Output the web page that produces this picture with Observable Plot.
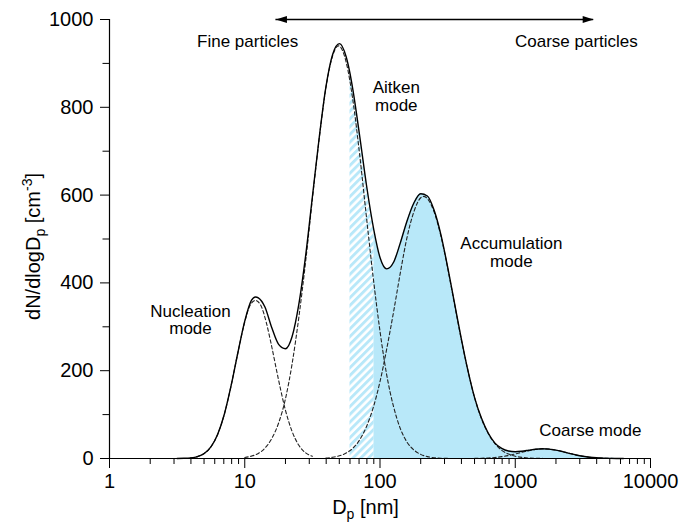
<!DOCTYPE html>
<html><head><meta charset="utf-8">
<script src="https://cdn.jsdelivr.net/npm/d3@7"></script>
<script src="https://cdn.jsdelivr.net/npm/@observablehq/plot@0.6"></script>
<style>
body{margin:0;background:#fff;}
#chart{width:682px;height:526px;}
</style></head><body><div id="chart"></div>
<script>
// ---- data (D in nm, values in cm^-3) ----
const diameters = [3.16,3.55,3.98,4.47,5.01,5.62,6.31,7.08,7.94,8.91,10,11.2,12.0,12.6,14.1,15.8,17.8,20.0,22.4,25.1,28.2,31.6,35.5,39.8,44.7,50.1,56.2,60,63.1,70.8,79.4,90,100,112,126,141,158,178,200,224,251,282,316,355,398,447,501,562,631,708,794,891,1000,1122,1259,1413,1585,1778,1995,2239,2512,2818,3162,3548,3981,4467,5012,5623,6310];
const totalValues = [0.1,0.4,1.4,4.3,11.3,26.6,55.4,102,167,242,313,360,368,366,345,299,260,250,278,351,462,595,730,846,921,945,915,877,839,734,623,521,458,432,447,490,540,582,603,598,566,510,437,355,275,200,138,92,58,35,23,17,15.4,16.6,18.9,21.2,22.2,21.4,19.1,15.7,11.8,8.1,5.1,3,1.6,0.8,0.35,0.1,0];

const nucleationD = [3.98,4.47,5.01,5.62,6.31,7.08,7.94,8.91,10,10.96,12.0,13.18,14.45,15.85,17.78,19.95,22.39,25.12,28.18,31.62];
const nucleationV = [1.4,4.3,11.3,26.6,55.4,102,167,242,311,349,360,348,309,254,179,111,61.6,30,13,5];

const aitkenD = [10,11.2,12.6,14.1,15.8,17.8,20.0,22.4,25.1,28.2,31.6,35.5,39.8,44.7,49.3,56.2,63.1,70.8,79.4,89.1,100,112,126,141,158,178,200,224,251,282,316];
const aitkenV = [2.3,5.4,11.6,23.6,45,80.8,136,216,321,449,590,728,844,918,940,903,815,691,550,412,290,191,118,69,37.8,19.5,9.4,4.3,1.8,0.7,0.3];

const accumulationD = [39.8,44.7,50.1,56.2,63.1,70.8,79.4,89.1,100,112,126,141,158,178,200,209,224,251,282,316,355,398,447,501,562,631,708,794,891,1000,1122,1259,1413,1585];
const accumulationV = [1.2,2.8,6.1,12.3,23.6,42.6,72.5,116,175,249,334,421,502,562,594,597,592,562,507,435,353,273,200,138,91,57,34,18.7,10,5.1,2.5,1.1,0.5,0.2];

const coarseD = [501,562,631,708,794,891,1000,1122,1259,1413,1585,1778,1995,2239,2512,2818,3162,3548,3981,4467,5012,5623,6310];
const coarseV = [0.24,0.6,1.2,2.3,4.2,6.8,10.3,14.1,17.8,20.7,22,21.4,19.1,15.7,11.8,8.1,5.1,3,1.6,0.8,0.35,0.1,0];

const hatchRange = [60, 90];      // nm, hatched Aitken part
const fillStart = 90;             // nm, solid shading starts
const arrowEnds = [17, 3800];     // nm, fine/coarse arrow
const arrowLevel = 1000;

const xMajorTicks = [1,10,100,1000,10000];
const xMinorTicks = [2,3,4,5,6,7,8,9,20,30,40,50,60,70,80,90,200,300,400,500,600,700,800,900,2000,3000,4000,5000,6000,7000,8000,9000];
const yMajorTicks = [0,200,400,600,800,1000];
const yMinorTicks = [100,300,500,700,900];

const annotationLabels = ["Fine particles","Coarse particles","Aitken\nmode","Accumulation\nmode","Nucleation\nmode","Coarse mode"];
const annotationX = [10.5, 2830, 132, 936, 3.97, 3590];
const annotationY = [950, 950, 825, 469, 315, 64];

// ---- tables ----
const zip = (D, V) => D.map((d, i) => ({d, v: V[i]}));
const total = zip(diameters, totalValues);
const modes = [zip(nucleationD, nucleationV), zip(aitkenD, aitkenV), zip(accumulationD, accumulationV), zip(coarseD, coarseV)];
const hatched = total.filter(p => p.d >= hatchRange[0] && p.d <= hatchRange[1]);
const shaded = total.filter(p => p.d >= fillStart);
const annotations = annotationLabels.map((t, i) => ({t, x: annotationX[i], y: annotationY[i]}));
const arrowHeads = [{x: arrowEnds[0], rot: 180}, {x: arrowEnds[1], rot: 0}];

const FONT = "'Liberation Sans', Arial, sans-serif";
const FILL = "#b8e8f9";

const arrowHead = {draw(ctx) { ctx.moveTo(0, 0); ctx.lineTo(-11, -3.6); ctx.lineTo(-11, 3.6); ctx.closePath(); }};

const W = 682, H = 526, ML = 109, MR = 32, MT = 19, MB = 68;

const plot = Plot.plot({
  width: W, height: H,
  marginLeft: ML, marginRight: MR, marginTop: MT, marginBottom: MB,
  style: {fontFamily: FONT, background: "#fff", color: "#000"},
  x: {type: "log", domain: [1, 10000]},
  y: {domain: [0, 1000]},
  marks: [
    Plot.areaY(shaded, {x: "d", y: "v", fill: FILL, curve: "monotone-x"}),
    Plot.areaY(hatched, {x: "d", y: "v", fill: "url(#hatch)", curve: "monotone-x"}),
    ...modes.map(m => Plot.line(m, {x: "d", y: "v", stroke: "#222", strokeWidth: 1.1, strokeDasharray: "3.5,2.5", curve: "monotone-x"})),
    Plot.line(total, {x: "d", y: "v", stroke: "#000", strokeWidth: 1.4, curve: "monotone-x"}),
    Plot.ruleY([0], {stroke: "#000", strokeWidth: 1.2}),
    Plot.ruleX([1], {y1: 0, y2: 1000, stroke: "#000", strokeWidth: 1.2}),
    Plot.axisX({ticks: xMajorTicks, tickSize: 10, tickPadding: 5, tickFormat: d => String(d), fontSize: 20, label: null}),
    Plot.axisX({ticks: xMinorTicks, tickSize: 6, tickFormat: () => "", label: null}),
    Plot.axisY({ticks: yMajorTicks, tickSize: 9, tickPadding: 7, tickFormat: d => String(d), fontSize: 20, label: null}),
    Plot.axisY({ticks: yMinorTicks, tickSize: 6.5, tickFormat: () => "", label: null}),
    Plot.ruleY([arrowLevel], {x1: arrowEnds[0], x2: arrowEnds[1], stroke: "#000", strokeWidth: 1.3}),
    Plot.dot(arrowHeads, {x: "x", y: () => arrowLevel, rotate: "rot", symbol: arrowHead, fill: "#000", stroke: "none", r: 4}),
    Plot.text(annotations, {x: "x", y: "y", text: "t", fontSize: 17, lineHeight: 1.02, fill: "#000", fontFamily: FONT})
  ]
});

// hatch pattern
const svg = d3.select(plot);
const defs = svg.insert("defs", ":first-child");
const pat = defs.append("pattern").attr("id", "hatch").attr("patternUnits", "userSpaceOnUse")
  .attr("width", 5.5).attr("height", 5.5).attr("patternTransform", "rotate(45)");
pat.append("rect").attr("width", 5.5).attr("height", 5.5).attr("fill", "#fff");
pat.append("rect").attr("width", 2.9).attr("height", 5.5).attr("fill", FILL);

// axis titles with sub/superscripts
const xt = svg.append("text").attr("x", (ML + W - MR) / 2 - 14).attr("y", 514)
  .attr("text-anchor", "middle").attr("font-family", FONT).attr("font-size", 20).attr("fill", "#000");
xt.append("tspan").text("D");
xt.append("tspan").attr("baseline-shift", "-5").attr("font-size", 14).text("p");
xt.append("tspan").text(" [nm]");

const yt = svg.append("text").attr("transform", `translate(40,${(MT + H - MB) / 2 + 8}) rotate(-90)`)
  .attr("text-anchor", "middle").attr("font-family", FONT).attr("font-size", 20).attr("fill", "#000");
yt.append("tspan").text("dN/dlogD");
yt.append("tspan").attr("baseline-shift", "-5").attr("font-size", 14).text("p");
yt.append("tspan").text(" [cm");
yt.append("tspan").attr("baseline-shift", "8").attr("font-size", 14).text("-3");
yt.append("tspan").text("]");

document.getElementById("chart").appendChild(plot);
</script>
</body></html>
